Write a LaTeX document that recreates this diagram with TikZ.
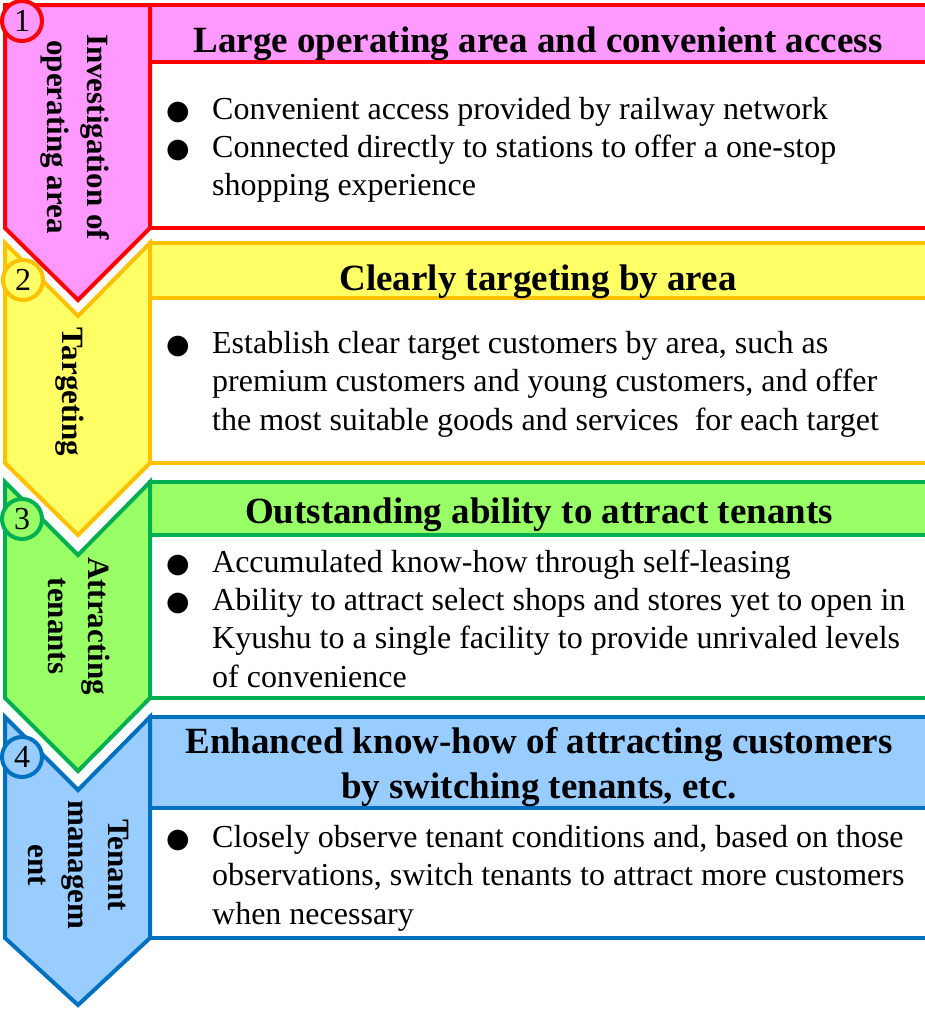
\documentclass[tikz,border=0pt]{standalone}
\usepackage{fontspec}
\setmainfont{Liberation Serif}
\newfontfamily\dejavu{DejaVu Sans}
\usetikzlibrary{positioning}
\definecolor{pinkfill}{HTML}{FF99FF}
\definecolor{pinkline}{HTML}{FF0000}
\definecolor{yelfill}{HTML}{FFFF66}
\definecolor{yelline}{HTML}{FFC000}
\definecolor{grnfill}{HTML}{99FF66}
\definecolor{grnline}{HTML}{00B050}
\definecolor{blufill}{HTML}{99CCFF}
\definecolor{bluline}{HTML}{0070C0}

\begin{document}
\begin{tikzpicture}[x=1pt, y=-1pt,
  band/.style={line width=4pt},
  num/.style={circle, draw, line width=4pt, minimum size=40pt, inner sep=0pt, font=\fontsize{32}{32}\selectfont},
  tag/.style={rotate=-90, inner sep=0pt, font=\fontsize{31}{40}\selectfont\bfseries},
  head/.style={anchor=base, inner sep=0pt, font=\fontsize{37}{45}\selectfont\bfseries},
  bul/.style={anchor=base, inner sep=0pt, font=\fontsize{27}{27}\dejavu},
  item/.style={inner sep=0pt, font=\fontsize{32}{38.5}\selectfont}]
  \useasboundingbox (0,0) rectangle (924,1009);

  % 1
  \draw[band, draw=pinkline, fill=white]    (150,5) rectangle (934,228);
  \draw[band, draw=pinkline, fill=pinkfill] (150,5) rectangle (934,62);
  \draw[band, draw=pinkline, fill=pinkfill] (5,5) -- (150,5) -- (150,228) -- (78,300) -- (5,228) -- cycle;
  \node[num, draw=pinkline, fill=pinkfill] (n1) at (22,21) {1};
  \node[tag] (tag1) at (75,137) {\begin{tabular}{c}Investigation of\\operating area\end{tabular}};
  \node[head] (head1) at (538,52) {Large operating area and convenient access};
  \node[bul] (b1a) at (178,119) {●};
  \node[item, base right=22pt of b1a] (t1a) {Convenient access provided by railway network};
  \node[bul] (b1b) at (178,157) {●};
  \node[item, base right=22pt of b1b] (t1b) {\begin{tabular}[t]{@{}l@{}}Connected directly to stations to offer a one-stop\\shopping experience\end{tabular}};

  % 2
  \draw[band, draw=yelline, fill=white]   (150,243) rectangle (934,463);
  \draw[band, draw=yelline, fill=yelfill] (150,243) rectangle (934,298);
  \draw[band, draw=yelline, fill=yelfill] (5,243) -- (78,316) -- (150,243) -- (150,463) -- (78,535) -- (5,463) -- cycle;
  \node[num, draw=yelline, fill=yelfill] (n2) at (23,280) {2};
  \node[tag] (tag2) at (70,392) {Targeting};
  \node[head] (head2) at (538,290) {Clearly targeting by area};
  \node[bul] (b2a) at (178,353) {●};
  \node[item, base right=22pt of b2a] (t2a) {\begin{tabular}[t]{@{}l@{}}Establish clear target customers by area, such as\\premium customers and young customers, and offer\\the most suitable goods and services\ \ for each target\end{tabular}};

  % 3
  \draw[band, draw=grnline, fill=white]   (150,482) rectangle (934,698);
  \draw[band, draw=grnline, fill=grnfill] (150,482) rectangle (934,535);
  \draw[band, draw=grnline, fill=grnfill] (5,482) -- (78,555) -- (150,482) -- (150,698) -- (78,771) -- (5,698) -- cycle;
  \node[num, draw=grnline, fill=grnfill] (n3) at (22,519) {3};
  \node[tag] (tag3) at (76,626) {\begin{tabular}{c}Attracting\\tenants\end{tabular}};
  \node[head] (head3) at (539,523) {Outstanding ability to attract tenants};
  \node[bul] (b3a) at (178,572) {●};
  \node[item, base right=22pt of b3a] (t3a) {Accumulated know-how through self-leasing};
  \node[bul] (b3b) at (178,610) {●};
  \node[item, base right=22pt of b3b] (t3b) {\begin{tabular}[t]{@{}l@{}}Ability to attract select shops and stores yet to open in\\Kyushu to a single facility to provide unrivaled levels\\of convenience\end{tabular}};

  % 4
  \draw[band, draw=bluline, fill=white]   (150,717) rectangle (934,938);
  \draw[band, draw=bluline, fill=blufill] (150,717) rectangle (934,808);
  \draw[band, draw=bluline, fill=blufill] (5,717) -- (78,790) -- (150,717) -- (150,938) -- (78,1005) -- (5,938) -- cycle;
  \node[num, draw=bluline, fill=blufill] (n4) at (22,757) {4};
  \node[tag] (tag4) at (76,865) {\begin{tabular}{c}Tenant\\managem\\ent\end{tabular}};
  \node[head] (head4) at (539,753) {\begin{tabular}[t]{c}Enhanced know-how of attracting customers\\by switching tenants, etc.\end{tabular}};
  \node[bul] (b4a) at (178,847) {●};
  \node[item, base right=22pt of b4a] (t4a) {\begin{tabular}[t]{@{}l@{}}Closely observe tenant conditions and, based on those\\observations, switch tenants to attract more customers\\when necessary\end{tabular}};
\end{tikzpicture}
\end{document}
